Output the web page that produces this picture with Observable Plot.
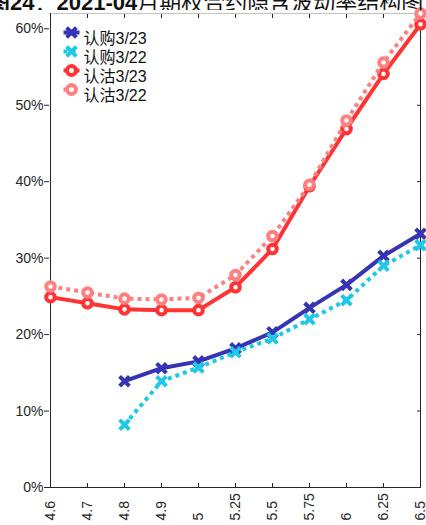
<!DOCTYPE html>
<html>
<head>
<meta charset="utf-8">
<script src="https://cdn.jsdelivr.net/npm/d3@7"></script>
<script src="https://cdn.jsdelivr.net/npm/@observablehq/plot@0.6"></script>
<style>
  html, body { margin: 0; padding: 0; background: white; }
  #wrap { width: 426px; height: 525px; overflow: hidden; position: relative; }
  #title { position: relative; height: 10px; overflow: hidden; }
  #title div { position: absolute; left: -12px; bottom: -4px; white-space: nowrap; font-size: 22px; line-height: 22px; font-family: "Noto Sans CJK SC", sans-serif; color: #111; }
  #title b { font-family: "Liberation Sans", "Noto Sans CJK SC", sans-serif; font-weight: bold; }
</style>
</head>
<body>
<div id="wrap">
  <div id="title"><div><b>图24</b>：<b>2021-04</b>月期权合约隐含波动率结构图</div></div>
  <div id="chart"></div>
</div>
<script>
const strikes = ["4.6","4.7","4.8","4.9","5","5.25","5.5","5.75","6","6.25","6.5"];
const call0323 = [null, null, 0.139, 0.156, 0.165, 0.182, 0.203, 0.235, 0.265, 0.303, 0.332];
const call0322 = [null, null, 0.082, 0.139, 0.157, 0.177, 0.195, 0.220, 0.245, 0.290, 0.317];
const put0323  = [0.249, 0.241, 0.233, 0.232, 0.232, 0.262, 0.312, 0.394, 0.469, 0.541, 0.606];
const put0322  = [0.263, 0.255, 0.247, 0.246, 0.248, 0.278, 0.329, 0.396, 0.480, 0.556, 0.620];
const seriesNames = ["认购3/23", "认购3/22", "认沽3/23", "认沽3/22"];
const seriesColors = ["#3434b4", "#1ec8e6", "#ff3333", "#ff8080"];
const yTicks = [0, 0.1, 0.2, 0.3, 0.4, 0.5, 0.6];
const yMax = 0.62;

const seriesValues = [call0323, call0322, put0323, put0322];
const seriesDash = [null, "4 4", null, "4 4"];
const seriesSymbol = ["times", "times", "circle", "circle"];

const rows = seriesValues.map(vals => strikes.map((s, i) => ({strike: s, iv: vals[i]})));

const ink = "#262626";
const marks = [];

// frame
marks.push(Plot.ruleY([yMax], {stroke: "#c4c4c4", strokeWidth: 1.2}));
marks.push(Plot.ruleY([0], {stroke: ink}));
marks.push(Plot.ruleX([strikes[0]], {stroke: ink}));
marks.push(Plot.ruleX([strikes[strikes.length - 1]], {stroke: ink}));

// axes
marks.push(Plot.axisY(yTicks, {anchor: "left", tickSize: 5, tickPadding: 1, tickFormat: d3.format(".0%"), fontSize: 14, color: ink, label: null}));
marks.push(Plot.axisY(yTicks, {anchor: "right", tickSize: -4, fill: "none", stroke: ink, label: null}));
marks.push(Plot.axisX(strikes, {anchor: "top", tickSize: -4, fill: "none", stroke: ink, label: null}));
marks.push(Plot.axisX(strikes, {anchor: "bottom", tickSize: -4, fill: "none", stroke: ink, label: null}));
marks.push(Plot.text(strikes, {x: d => d, frameAnchor: "bottom", dy: 33, rotate: -90, textAnchor: "start", lineAnchor: "middle", fontSize: 14, fill: ink}));

// series
seriesValues.forEach((_, k) => {
  marks.push(Plot.line(rows[k], {x: "strike", y: "iv", stroke: seriesColors[k], strokeWidth: 4, strokeDasharray: seriesDash[k], strokeLinecap: seriesDash[k] ? "butt" : "round", strokeLinejoin: "round"}));
  if (seriesSymbol[k] === "times") {
    marks.push(Plot.dot(rows[k], {x: "strike", y: "iv", symbol: "times", r: 4.5, stroke: seriesColors[k], strokeWidth: 4}));
  } else {
    marks.push(Plot.dot(rows[k], {x: "strike", y: "iv", r: 4.3, fill: "white", stroke: seriesColors[k], strokeWidth: 4}));
  }
});

// legend (inside top-left)
const legendLine = {draw(ctx) { ctx.moveTo(-8, 0); ctx.lineTo(8, 0); }};
seriesNames.forEach((name, k) => {
  const dy = 19 + 19 * k;
  marks.push(Plot.dot([name], {frameAnchor: "top-left", dx: 22, dy, symbol: legendLine, fill: "none", stroke: seriesColors[k], strokeWidth: 4, strokeDasharray: seriesDash[k], strokeLinecap: "butt"}));
  if (seriesSymbol[k] === "times") {
    marks.push(Plot.dot([name], {frameAnchor: "top-left", dx: 22, dy, symbol: "times", r: 4.5, stroke: seriesColors[k], strokeWidth: 4}));
  } else {
    marks.push(Plot.dot([name], {frameAnchor: "top-left", dx: 22, dy, r: 4.5, fill: "white", stroke: seriesColors[k], strokeWidth: 4}));
  }
  marks.push(Plot.text([name], {frameAnchor: "top-left", dx: 34, dy, text: d => d, textAnchor: "start", fontSize: 16, fill: "#111"}));
});

const chart = Plot.plot({
  width: 426,
  height: 515,
  marginTop: 3,
  marginBottom: 38,
  marginLeft: 49,
  marginRight: 6,
  style: {fontFamily: "'Liberation Sans', 'Noto Sans CJK SC', sans-serif", overflow: "visible", background: "white"},
  x: {type: "point", domain: strikes, padding: 0, axis: null},
  y: {domain: [0, yMax], axis: null},
  marks
});
document.getElementById("chart").appendChild(chart);
</script>
</body>
</html>
